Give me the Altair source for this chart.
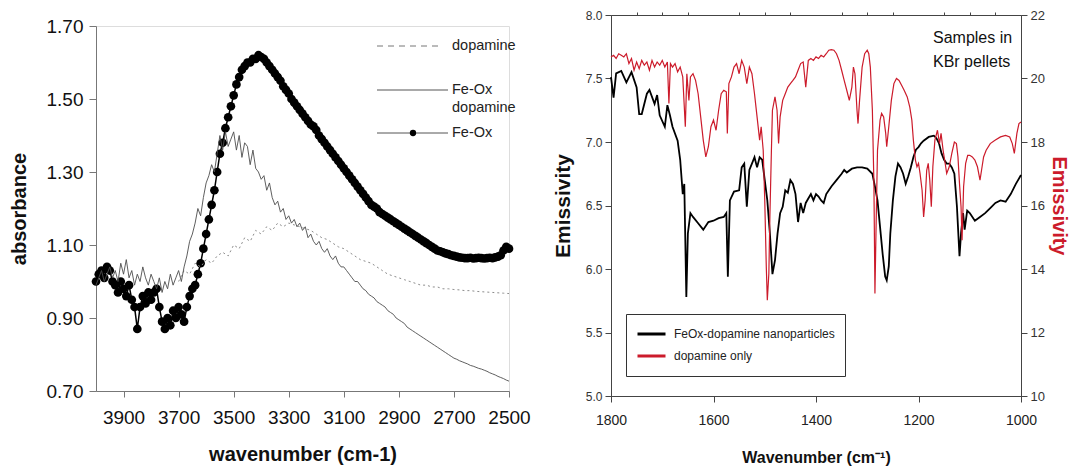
import altair as alt
import pandas as pd

FONT = "Liberation Sans"
RED = "#cc1b2b"

# ---------------- left panel: absorbance ----------------
wn_left = list(range(4000, 2499, -10))
feox = [
    1.00, 1.02, 1.03, 1.01, 1.04, 1.03, 1.00, 0.99, 0.97, 1.00,
    0.98, 0.96, 0.99, 0.95, 0.93, 0.87, 0.93, 0.96, 0.94, 0.97,
    0.95, 0.97, 0.98, 0.93, 0.89, 0.87, 0.90, 0.88, 0.92, 0.90,
    0.93, 0.91, 0.89, 0.93, 0.96, 0.98, 0.99, 1.02, 1.05, 1.09,
    1.13, 1.17, 1.21, 1.25, 1.30, 1.35, 1.38, 1.42, 1.45, 1.48,
    1.51, 1.54, 1.56, 1.58, 1.59, 1.60, 1.60, 1.61, 1.61, 1.62,
    1.615, 1.61, 1.60, 1.59, 1.58, 1.57, 1.56, 1.55, 1.535, 1.525,
    1.515, 1.50, 1.49, 1.48, 1.47, 1.46, 1.45, 1.44, 1.43, 1.425,
    1.415, 1.40, 1.39, 1.38, 1.37, 1.36, 1.35, 1.34, 1.33, 1.32,
    1.31, 1.30, 1.29, 1.28, 1.27, 1.26, 1.25, 1.24, 1.23, 1.22,
    1.21, 1.205, 1.20, 1.19, 1.185, 1.18, 1.175, 1.17, 1.165, 1.16,
    1.155, 1.15, 1.145, 1.14, 1.135, 1.13, 1.125, 1.12, 1.115, 1.11,
    1.105, 1.10, 1.095, 1.09, 1.085, 1.083, 1.08, 1.077, 1.075, 1.072,
    1.07, 1.068, 1.066, 1.065, 1.064, 1.064, 1.065, 1.063, 1.064, 1.065,
    1.064, 1.063, 1.064, 1.065, 1.064, 1.066, 1.068, 1.072, 1.085, 1.095,
    1.09,
]
feox_dopamine = [
    0.99, 1.01, 1.03, 1.00, 1.02, 1.04, 1.01, 1.03, 1.00, 1.05,
    1.02, 1.06, 1.01, 1.03, 0.99, 1.02, 1.00, 1.04, 1.01, 0.99,
    1.02, 1.00, 0.98, 1.01, 0.97, 1.00, 0.98, 1.02, 0.99, 1.01,
    1.03, 1.00, 1.04, 1.07, 1.11, 1.13, 1.16, 1.20, 1.18, 1.23,
    1.27, 1.29, 1.32, 1.30, 1.35, 1.40, 1.36, 1.41, 1.37, 1.39,
    1.41, 1.36, 1.40, 1.34, 1.38, 1.37, 1.32, 1.36, 1.31, 1.30,
    1.28, 1.29, 1.25, 1.27, 1.23, 1.21, 1.22, 1.19, 1.20, 1.17,
    1.18, 1.16, 1.17, 1.15, 1.16, 1.14, 1.15, 1.12, 1.13, 1.11,
    1.10, 1.11, 1.09, 1.08, 1.09, 1.07, 1.06, 1.07, 1.05, 1.04,
    1.04, 1.03, 1.02, 1.01, 1.00, 1.00, 0.99, 0.98, 0.975, 0.965,
    0.96, 0.955, 0.945, 0.94, 0.935, 0.93, 0.92, 0.915, 0.91, 0.90,
    0.895, 0.89, 0.885, 0.875, 0.87, 0.865, 0.86, 0.855, 0.85, 0.845,
    0.84, 0.835, 0.83, 0.825, 0.82, 0.815, 0.81, 0.805, 0.80, 0.795,
    0.79, 0.787, 0.783, 0.78, 0.777, 0.774, 0.77, 0.768, 0.765, 0.762,
    0.76, 0.757, 0.754, 0.75, 0.747, 0.744, 0.74, 0.737, 0.734, 0.73,
    0.727,
]
wn_dop = list(range(3700, 2499, -20))
dopamine = [
    1.00, 1.03, 1.02, 1.05, 1.04, 1.06, 1.05, 1.07, 1.08, 1.07,
    1.10, 1.09, 1.12, 1.11, 1.14, 1.13, 1.15, 1.14, 1.16, 1.15,
    1.16, 1.155, 1.15, 1.145, 1.14, 1.13, 1.12, 1.115, 1.105, 1.095,
    1.09, 1.08, 1.07, 1.06, 1.055, 1.05, 1.04, 1.03, 1.02, 1.015,
    1.01, 1.005, 1.00, 0.995, 0.99, 0.99, 0.985, 0.985, 0.98, 0.98,
    0.978, 0.977, 0.975, 0.975, 0.973, 0.972, 0.971, 0.97, 0.969, 0.968,
    0.967,
]
left_x_ticks = [3900, 3700, 3500, 3300, 3100, 2900, 2700, 2500]
left_y_ticks = [0.7, 0.9, 1.1, 1.3, 1.5, 1.7]
left_legend_labels = ["dopamine", "Fe-Ox", "dopamine", "Fe-Ox"]

# ---------------- right panel: emissivity ----------------
black_wn = [
    1800, 1795, 1790, 1780, 1770, 1760, 1750, 1745, 1740, 1730,
    1725, 1715, 1710, 1705, 1695, 1690, 1685, 1680, 1670, 1665,
    1660, 1657, 1653, 1650, 1645, 1640, 1630, 1620, 1610, 1600,
    1590, 1580, 1575, 1572, 1568, 1560, 1550, 1545, 1540, 1535,
    1530, 1525, 1520, 1515, 1510, 1505, 1500, 1495, 1490, 1485,
    1480, 1475, 1470, 1465, 1460, 1455, 1450, 1445, 1440, 1435,
    1430, 1425, 1420, 1410, 1405, 1400, 1395, 1390, 1385, 1380,
    1370, 1360, 1350, 1345, 1340, 1330, 1320, 1310, 1300, 1290,
    1285, 1280, 1275, 1270, 1265, 1262, 1258, 1255, 1250, 1245,
    1240, 1235, 1230, 1225, 1220, 1215, 1210, 1205, 1200, 1195,
    1190, 1180, 1170, 1165, 1160, 1155, 1150, 1145, 1140, 1135,
    1130, 1125, 1120, 1117, 1113, 1110, 1105, 1100, 1090, 1080,
    1070, 1060, 1050, 1040, 1030, 1020, 1010, 1000,
]
black_em = [
    7.51, 7.35, 7.54, 7.56, 7.47, 7.55, 7.43, 7.22, 7.22, 7.38,
    7.41, 7.30, 7.37, 7.21, 7.12, 7.29, 7.21, 7.12, 7.01, 6.86,
    6.59, 6.67, 5.78, 6.28, 6.44, 6.41, 6.36, 6.31, 6.37, 6.38,
    6.40, 6.41, 6.44, 5.94, 6.54, 6.61, 6.62, 6.80, 6.83, 6.49,
    6.78, 6.83, 6.88, 6.80, 6.88, 6.86, 6.70, 6.54, 6.28, 5.96,
    6.07, 6.28, 6.44, 6.49, 6.62, 6.60, 6.70, 6.67, 6.59, 6.37,
    6.52, 6.44, 6.52, 6.59, 6.54, 6.59, 6.57, 6.54, 6.52, 6.59,
    6.65, 6.70, 6.75, 6.78, 6.76, 6.79, 6.80, 6.80, 6.79, 6.75,
    6.65, 6.54, 6.33, 6.12, 5.94, 5.91, 6.02, 6.28, 6.54, 6.73,
    6.83, 6.80, 6.75, 6.67, 6.73, 6.80, 6.88, 6.94, 6.96, 6.99,
    7.01, 7.04, 7.05, 7.03, 6.99, 6.91, 6.86, 6.83, 6.83, 6.80,
    6.75, 6.49, 6.10, 6.28, 6.44, 6.31, 6.46, 6.44, 6.38, 6.41,
    6.44, 6.48, 6.52, 6.54, 6.53, 6.59, 6.67, 6.74,
]
red_wn = [
    1800, 1795, 1790, 1785, 1780, 1775, 1770, 1765, 1760, 1755,
    1750, 1745, 1740, 1735, 1730, 1725, 1720, 1715, 1710, 1705,
    1700, 1695, 1690, 1687, 1684, 1680, 1675, 1670, 1665, 1660,
    1655, 1652, 1648, 1645, 1640, 1635, 1630, 1625, 1620, 1615,
    1610, 1605, 1600, 1595, 1590, 1585, 1580, 1575, 1573, 1570,
    1565, 1560, 1555, 1550, 1545, 1540, 1535, 1530, 1525, 1520,
    1515, 1510, 1507, 1503, 1500, 1497, 1495, 1492, 1490, 1487,
    1485, 1480, 1476, 1473, 1470, 1465, 1460, 1455, 1450, 1445,
    1440, 1435, 1430, 1425, 1420, 1415, 1410, 1405, 1400, 1395,
    1390, 1385, 1380, 1375, 1370, 1365, 1360, 1355, 1350, 1345,
    1340, 1335, 1330, 1327, 1324, 1320, 1318, 1315, 1310, 1305,
    1300, 1297, 1294, 1290, 1287, 1285, 1283, 1280, 1275, 1272,
    1268, 1264, 1262, 1258, 1253, 1248, 1243, 1238, 1233, 1228,
    1222, 1217, 1213, 1210, 1206, 1203, 1200, 1197, 1193, 1190,
    1187, 1184, 1181, 1178, 1175, 1172, 1168, 1163, 1159, 1156,
    1152, 1148, 1145, 1140, 1135, 1130, 1126, 1123, 1120, 1117,
    1115, 1112, 1108, 1104, 1100, 1095, 1090, 1085, 1080, 1077,
    1073, 1068, 1060, 1050, 1040, 1030, 1022, 1017, 1013, 1008,
    1004, 1000,
]
red_em = [
    20.68, 20.73, 20.63, 20.78, 20.73, 20.68, 20.78, 20.47, 20.63, 20.26,
    20.52, 20.31, 20.57, 20.42, 20.52, 20.26, 20.57, 20.36, 20.52, 20.42,
    20.57, 20.36, 20.52, 19.21, 20.47, 20.36, 20.47, 20.21, 20.36, 20.05,
    18.48, 20.15, 19.31, 20.05, 20.15, 19.94, 19.52, 18.79, 18.06, 17.53,
    17.85, 18.48, 18.69, 18.37, 19.00, 19.52, 19.63, 19.58, 18.27, 19.84,
    20.05, 20.36, 20.47, 20.15, 20.57, 20.36, 19.84, 20.36, 20.15, 19.52,
    18.79, 18.06, 18.48, 17.74, 16.17, 14.07, 13.02, 13.86, 15.64, 17.74,
    19.00, 19.42, 19.00, 17.95, 18.79, 19.31, 19.52, 19.73, 19.84, 19.94,
    20.05, 20.26, 20.47, 20.52, 19.73, 20.57, 20.63, 20.57, 20.68, 20.63,
    20.73, 20.68, 20.78, 20.89, 20.91, 20.89, 20.78, 20.57, 20.26, 19.94,
    19.63, 19.31, 19.73, 20.36, 20.15, 19.00, 18.58, 19.31, 20.36, 20.78,
    20.89, 20.78, 20.36, 19.00, 16.69, 13.23, 15.11, 17.74, 18.69, 18.90,
    18.79, 18.27, 17.85, 18.48, 19.31, 19.84, 20.00, 19.94, 19.79, 19.63,
    19.42, 19.10, 18.69, 18.06, 17.43, 17.22, 17.33, 17.01, 16.48, 15.64,
    16.17, 17.11, 17.33, 16.80, 15.96, 17.22, 18.06, 18.37, 17.95, 18.27,
    17.74, 17.33, 17.01, 17.22, 17.64, 18.00, 17.95, 17.53, 16.69, 15.96,
    14.91, 16.59, 17.33, 17.58, 17.58, 17.53, 17.43, 17.22, 16.80, 17.11,
    17.53, 17.74, 17.95, 18.06, 18.16, 18.21, 18.16, 17.95, 17.64, 18.27,
    18.58, 18.63,
]
right_series = ["FeOx-dopamine nanoparticles", "dopamine only"]
right_x_major = [1800, 1600, 1400, 1200, 1000]
right_x_minor = [1750, 1700, 1650, 1550, 1500, 1450, 1350, 1300, 1250, 1150, 1100, 1050]
right_y_left_ticks = [5.0, 5.5, 6.0, 6.5, 7.0, 7.5, 8.0]
right_y_right_ticks = [10, 12, 14, 16, 18, 20, 22]
annotation = ["Samples in\nKBr pellets"]

assert len(feox) == len(wn_left) == len(feox_dopamine)
assert len(dopamine) == len(wn_dop)
assert len(black_wn) == len(black_em)
assert len(red_wn) == len(red_em)

# ---------------- build left chart ----------------
df_feox = pd.DataFrame({"wn": wn_left, "a": feox})
df_feox_dop = pd.DataFrame({"wn": wn_left, "a": feox_dopamine})
df_dop = pd.DataFrame({"wn": wn_dop, "a": dopamine})

lx = alt.X(
    "wn:Q",
    scale=alt.Scale(domain=[2500, 4000], reverse=True, nice=False, zero=False),
    axis=alt.Axis(
        values=left_x_ticks, format="d", title="wavenumber (cm-1)", grid=False,
        labelFont=FONT, labelFontSize=19, labelColor="#111", labelPadding=11,
        tickSize=6, tickColor="#777", domainColor="#777", labelFlush=False,
        titleFont=FONT, titleFontSize=20, titleFontWeight="bold", titleColor="#111",
        titlePadding=17,
    ),
)
ly = alt.Y(
    "a:Q",
    scale=alt.Scale(domain=[0.7, 1.7], nice=False, zero=False),
    axis=alt.Axis(
        values=left_y_ticks, format=".2f", title="absorbance", grid=False,
        labelFont=FONT, labelFontSize=19, labelColor="#111", labelPadding=6,
        tickSize=7, tickColor="#777", domainColor="#777",
        titleFont=FONT, titleFontSize=20, titleFontWeight="bold", titleColor="#111",
        titlePadding=17,
    ),
)

feox_line = alt.Chart(df_feox).mark_line(color="black", strokeWidth=1.5).encode(x=lx, y=ly)
feox_pts = alt.Chart(df_feox).mark_circle(color="black", size=75, opacity=1).encode(x=lx, y=ly)
feox_dop_line = alt.Chart(df_feox_dop).mark_line(color="#4d4d4d", strokeWidth=0.9).encode(x=lx, y=ly)
dop_line = alt.Chart(df_dop).mark_line(color="#8c8c8c", strokeWidth=1, strokeDash=[2, 3]).encode(x=lx, y=ly)

one = alt.Data(values=[{"k": 1}])
leg_dash = alt.Chart(one).mark_rule(color="#777", strokeDash=[6, 5], strokeWidth=1).encode(
    x=alt.value(281), x2=alt.value(346), y=alt.value(20))
leg_solid = alt.Chart(one).mark_rule(color="#555", strokeWidth=1).encode(
    x=alt.value(281), x2=alt.value(352), y=alt.value(64))
leg_feox = alt.Chart(one).mark_rule(color="#555", strokeWidth=1).encode(
    x=alt.value(281), x2=alt.value(352), y=alt.value(107))
leg_dot = alt.Chart(one).mark_circle(color="black", size=40, opacity=1).encode(
    x=alt.value(317), y=alt.value(107))
leg_text_y = [20, 64, 82, 107]
leg_texts = [
    alt.Chart(pd.DataFrame({"t": [lab]})).mark_text(
        align="left", baseline="middle", font=FONT, fontSize=14.5, color="#222"
    ).encode(text="t:N", x=alt.value(356), y=alt.value(yy))
    for lab, yy in zip(left_legend_labels, leg_text_y)
]

left = alt.layer(
    feox_pts, feox_line, dop_line, feox_dop_line,
    leg_dash, leg_solid, leg_feox, leg_dot, *leg_texts,
).properties(width=413, height=365)

# empty spacer so that the left plot starts a little lower than the right one
spacer = alt.Chart(alt.Data(values=[])).mark_point(opacity=0).encode(
    x=alt.value(0), y=alt.value(0)
).properties(width=413, height=1,
             view=alt.ViewBackground(stroke="transparent", strokeOpacity=0))
left_col = alt.vconcat(spacer, left, spacing=0)

# ---------------- build right chart ----------------
df_right = pd.DataFrame({
    "wn": black_wn + red_wn,
    "em": black_em + red_em,
    "series": [right_series[0]] * len(black_wn) + [right_series[1]] * len(red_wn),
})
xscale_r = alt.Scale(domain=[1000, 1800], reverse=True, nice=False, zero=False)
rx_major = alt.X(
    "wn:Q", scale=xscale_r,
    axis=alt.Axis(
        values=right_x_major, format="d", title="Wavenumber (cm\u207b\u00b9)", grid=False,
        labelFont=FONT, labelFontSize=14, labelColor="#222", labelPadding=11,
        tickSize=6, tickColor="#444", domainColor="#444", labelFlush=False,
        titleFont=FONT, titleFontSize=16, titleFontWeight="bold", titleColor="#111",
        titlePadding=22,
    ),
)
rx_minor = alt.X(
    "wn:Q", scale=xscale_r,
    axis=alt.Axis(values=right_x_minor, labels=False, title=None, grid=False,
                  tickSize=3, tickColor="#444", domain=False),
)
color = alt.Color(
    "series:N",
    scale=alt.Scale(domain=right_series, range=["#000000", RED]),
    legend=alt.Legend(
        title=None, orient="none", legendX=15, legendY=299, direction="vertical",
        symbolType="stroke", symbolStrokeWidth=3, symbolSize=784, clipHeight=20,
        rowPadding=2, labelFont=FONT, labelFontSize=12, labelColor="#222",
        labelLimit=400, labelOffset=7, strokeColor="#333", fillColor="white",
        padding=10, cornerRadius=0,
    ),
)
black = alt.Chart(df_right).transform_filter(
    alt.datum.series == right_series[0]
).mark_line(strokeWidth=1.8).encode(
    x=rx_major,
    y=alt.Y("em:Q", scale=alt.Scale(domain=[5, 8], nice=False, zero=False),
            axis=alt.Axis(values=right_y_left_ticks, format=".1f", title="Emissivity", orient="left",
                          grid=False, labelFont=FONT, labelFontSize=12, labelColor="#333",
                          labelPadding=3, tickSize=6, tickColor="#444", domainColor="#444",
                          titleFont=FONT, titleFontSize=21, titleFontWeight="bold",
                          titleColor="#111", titlePadding=12)),
    color=color,
)
red = alt.Chart(df_right).transform_filter(
    alt.datum.series == right_series[1]
).mark_line(strokeWidth=1.2).encode(
    x=rx_minor,
    y=alt.Y("em:Q", scale=alt.Scale(domain=[10, 22], nice=False, zero=False),
            axis=alt.Axis(values=right_y_right_ticks, format="d", title="Emissivity", orient="right",
                          grid=False, labelFont=FONT, labelFontSize=13, labelColor="#333",
                          labelPadding=3, tickSize=6, tickColor="#444", domainColor="#444",
                          titleFont=FONT, titleFontSize=20, titleFontWeight="bold",
                          titleColor=RED, titlePadding=4)),
    color=color,
)
note = alt.Chart(pd.DataFrame({"t": annotation})).mark_text(
    align="left", baseline="top", lineBreak="\n", font=FONT, fontSize=16,
    lineHeight=24, color="#111",
).encode(text="t:N", x=alt.value(322), y=alt.value(15))

right = alt.layer(black, red, note).resolve_scale(y="independent").resolve_axis(
    x="independent"
).properties(width=410, height=381, view=alt.ViewBackground(stroke="#444", strokeWidth=1))

chart = alt.hconcat(left_col, right, spacing=20).resolve_legend(
    color="independent"
).properties(
    padding={"left": 0, "top": 0, "right": 6, "bottom": 0}
).configure_view(stroke="transparent").configure(background="white")

chart.save("out.html", embed_options={"renderer": "svg", "actions": False})
